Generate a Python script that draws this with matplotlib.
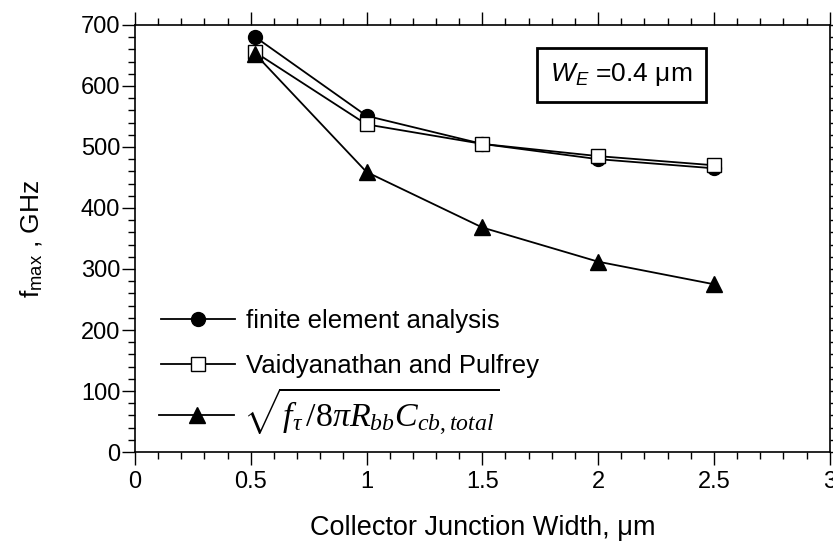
import numpy as np
import matplotlib
matplotlib.use('Agg')
import matplotlib.pyplot as plt
from matplotlib.ticker import MultipleLocator

plt.rcParams['font.family'] = ['Liberation Sans', 'DejaVu Sans']
plt.rcParams['mathtext.fontset'] = 'custom'
plt.rcParams['mathtext.rm'] = 'Liberation Serif'
plt.rcParams['mathtext.it'] = 'Liberation Serif:italic'
plt.rcParams['mathtext.sf'] = 'Liberation Sans'
plt.rcParams['mathtext.bf'] = 'Liberation Sans:italic'

# data
width = [0.52, 1.0, 1.5, 2.0, 2.5]
fmax_fea = [680, 551, 505, 480, 465]
fmax_vp = [655, 537, 505, 485, 470]
fmax_formula = [652, 459, 368, 312, 275]

labels = ['finite element analysis',
          'Vaidyanathan and Pulfrey',
          r'$\sqrt{f_\tau\,/8\pi R_{bb}C_{cb,total}}$']

fig = plt.figure(figsize=(8.33, 5.42), dpi=100)
ax = fig.add_axes([0.162, 0.166, 0.834, 0.788])

l1, = ax.plot(width, fmax_fea, '-o', color='black', lw=1.3, ms=10)
l2, = ax.plot(width, fmax_vp, '-s', color='black', lw=1.3, ms=9.5, mfc='white', mew=1.0)
l3, = ax.plot(width, fmax_formula, '-^', color='black', lw=1.3, ms=11)

ax.set_xlim(0, 3)
ax.set_ylim(0, 700)
ax.xaxis.set_major_locator(MultipleLocator(0.5))
ax.xaxis.set_minor_locator(MultipleLocator(0.1))
ax.yaxis.set_major_locator(MultipleLocator(100))
ax.yaxis.set_minor_locator(MultipleLocator(20))
ax.set_xticks([0, 0.5, 1, 1.5, 2, 2.5, 3])
ax.set_xticklabels(['0', '0.5', '1', '1.5', '2', '2.5', '3'])
ax.tick_params(which='both', direction='out', top=True, right=True, labelsize=17, width=1.0)
ax.tick_params(which='major', length=9.5)
ax.tick_params(which='minor', length=5)
ax.tick_params(axis='y', pad=1)
ax.tick_params(axis='x', pad=4)
for s in ax.spines.values():
    s.set_linewidth(1.2)

ax.set_xlabel('Collector Junction Width, \u03bcm', fontsize=19.5, labelpad=16)
ax.set_ylabel(r'f$_{\mathsf{max}}$ , GHz', fontsize=19, labelpad=26)

# two legends so the tall formula entry keeps the same row pitch
leg1 = ax.legend([l1, l2], labels[:2], loc='center left', bbox_to_anchor=(0.004, 0.254),
                 frameon=False, fontsize=18.5, handlelength=2.9, handletextpad=0.4,
                 labelspacing=0.8)
ax.add_artist(leg1)
leg2 = ax.legend([l3], labels[2:], loc='center left', bbox_to_anchor=(-0.009, 0.094),
                 frameon=False, fontsize=24.5, handlelength=2.2, handletextpad=0.25)

ax.text(0.70, 0.883, r'$\mathbf{W_E}$ =0.4 $\mathsf{\mu}$m', transform=ax.transAxes,
        fontsize=19, ha='center', va='center',
        bbox=dict(boxstyle='square,pad=0.5', fc='white', ec='black', lw=2))

fig.savefig('out.png', dpi=100)
